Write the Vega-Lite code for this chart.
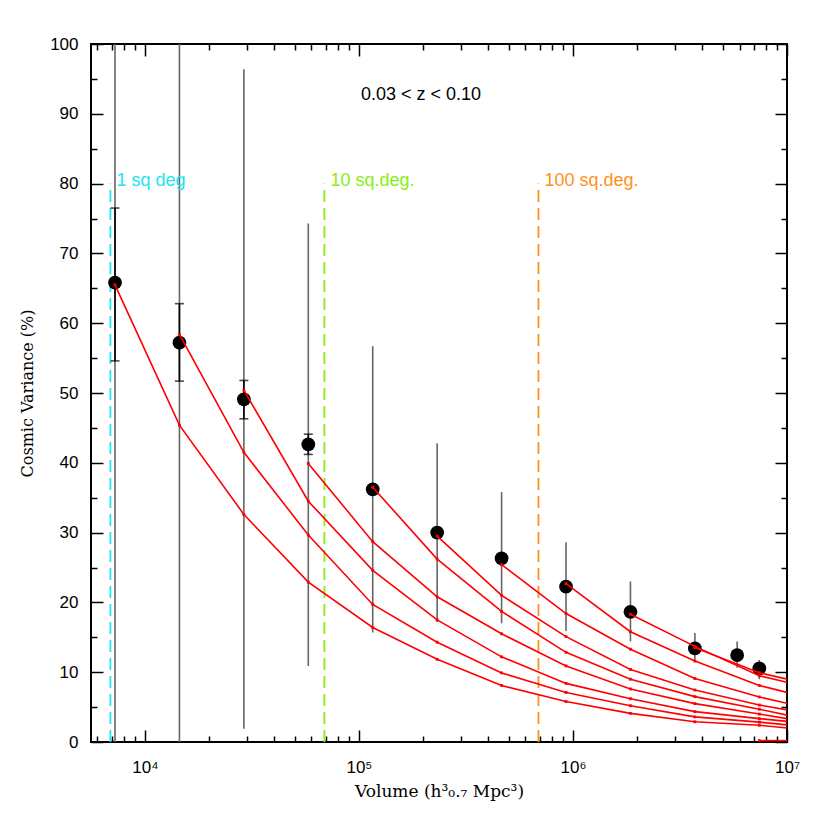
{
  "$schema": "https://vega.github.io/schema/vega-lite/v6.json",
  "width": 696,
  "height": 698,
  "autosize": {"type": "none"},
  "padding": {"left": 91, "top": 44, "right": 43, "bottom": 88},
  "background": "white",
  "config": {
    "view": {"stroke": "black", "strokeWidth": 2},
    "axis": {
      "grid": false,
      "domain": false,
      "tickColor": "black",
      "tickWidth": 1.5,
      "labelFont": "Liberation Sans",
      "labelFontSize": 17,
      "labelColor": "black",
      "titleFont": "DejaVu Serif",
      "titleFontSize": 16,
      "titleFontWeight": "normal",
      "titleColor": "black"
    }
  },
  "datasets": {
    "areas": [
      {"label": "1 sq deg", "V": 6900, "lo": 0, "top": 80},
      {"label": "10 sq.deg.", "V": 69000, "lo": 0, "top": 80},
      {"label": "100 sq.deg.", "V": 690000, "lo": 0, "top": 80}
    ],
    "obs": [
      {"V": 7250, "cv": 65.8, "lo": 0, "hi": 100, "elo": 54.6, "ehi": 76.5},
      {"V": 14500, "cv": 57.2, "lo": 0, "hi": 100, "elo": 51.7, "ehi": 62.8},
      {"V": 29000, "cv": 49.1, "lo": 1.9, "hi": 96.4, "elo": 46.3, "ehi": 51.8},
      {"V": 58000, "cv": 42.65, "lo": 10.9, "hi": 74.3, "elo": 41.2, "ehi": 44.1},
      {"V": 116000, "cv": 36.2, "lo": 15.7, "hi": 56.7},
      {"V": 232000, "cv": 30.0, "lo": 17.2, "hi": 42.8},
      {"V": 464000, "cv": 26.3, "lo": 17.0, "hi": 35.8},
      {"V": 928000, "cv": 22.25, "lo": 15.9, "hi": 28.6},
      {"V": 1856000, "cv": 18.65, "lo": 14.4, "hi": 23.0},
      {"V": 3712000, "cv": 13.4, "lo": 11.5, "hi": 15.6},
      {"V": 5850000, "cv": 12.46, "lo": 10.65, "hi": 14.4},
      {"V": 7424000, "cv": 10.55, "lo": 9.0, "hi": 11.75}
    ],
    "model": [
      {"s": "s1", "V": 7250, "cv": 65.5},
      {"s": "s1", "V": 14500, "cv": 45.4},
      {"s": "s1", "V": 29000, "cv": 32.6},
      {"s": "s1", "V": 58000, "cv": 22.9},
      {"s": "s1", "V": 116000, "cv": 16.4},
      {"s": "s1", "V": 232000, "cv": 11.85},
      {"s": "s1", "V": 464000, "cv": 8.1},
      {"s": "s1", "V": 928000, "cv": 5.8},
      {"s": "s1", "V": 1856000, "cv": 4.1},
      {"s": "s1", "V": 3712000, "cv": 2.9},
      {"s": "s1", "V": 7424000, "cv": 2.4},
      {"s": "s1", "V": 10000000, "cv": 2.0},
      {"s": "s2", "V": 14500, "cv": 58.4},
      {"s": "s2", "V": 29000, "cv": 41.5},
      {"s": "s2", "V": 58000, "cv": 29.65},
      {"s": "s2", "V": 116000, "cv": 19.7},
      {"s": "s2", "V": 232000, "cv": 14.3},
      {"s": "s2", "V": 464000, "cv": 9.9},
      {"s": "s2", "V": 928000, "cv": 7.1},
      {"s": "s2", "V": 1856000, "cv": 5.2},
      {"s": "s2", "V": 3712000, "cv": 3.6},
      {"s": "s2", "V": 7424000, "cv": 2.85},
      {"s": "s2", "V": 10000000, "cv": 2.45},
      {"s": "s3", "V": 29000, "cv": 50.4},
      {"s": "s3", "V": 58000, "cv": 34.5},
      {"s": "s3", "V": 116000, "cv": 24.6},
      {"s": "s3", "V": 232000, "cv": 17.5},
      {"s": "s3", "V": 464000, "cv": 12.2},
      {"s": "s3", "V": 928000, "cv": 8.4},
      {"s": "s3", "V": 1856000, "cv": 6.2},
      {"s": "s3", "V": 3712000, "cv": 4.35},
      {"s": "s3", "V": 7424000, "cv": 3.35},
      {"s": "s3", "V": 10000000, "cv": 2.95},
      {"s": "s4", "V": 58000, "cv": 39.9},
      {"s": "s4", "V": 116000, "cv": 28.7},
      {"s": "s4", "V": 232000, "cv": 20.8},
      {"s": "s4", "V": 464000, "cv": 15.5},
      {"s": "s4", "V": 928000, "cv": 10.9},
      {"s": "s4", "V": 1856000, "cv": 7.6},
      {"s": "s4", "V": 3712000, "cv": 5.5},
      {"s": "s4", "V": 7424000, "cv": 4.0},
      {"s": "s4", "V": 10000000, "cv": 3.35},
      {"s": "s5", "V": 116000, "cv": 36.5},
      {"s": "s5", "V": 232000, "cv": 26.2},
      {"s": "s5", "V": 464000, "cv": 18.7},
      {"s": "s5", "V": 928000, "cv": 12.85},
      {"s": "s5", "V": 1856000, "cv": 9.0},
      {"s": "s5", "V": 3712000, "cv": 6.5},
      {"s": "s5", "V": 7424000, "cv": 4.7},
      {"s": "s5", "V": 10000000, "cv": 3.85},
      {"s": "s6", "V": 232000, "cv": 29.5},
      {"s": "s6", "V": 464000, "cv": 21.0},
      {"s": "s6", "V": 928000, "cv": 15.1},
      {"s": "s6", "V": 1856000, "cv": 10.4},
      {"s": "s6", "V": 3712000, "cv": 7.45},
      {"s": "s6", "V": 7424000, "cv": 5.3},
      {"s": "s6", "V": 10000000, "cv": 4.6},
      {"s": "s7", "V": 464000, "cv": 25.4},
      {"s": "s7", "V": 928000, "cv": 18.4},
      {"s": "s7", "V": 1856000, "cv": 13.3},
      {"s": "s7", "V": 3712000, "cv": 9.1},
      {"s": "s7", "V": 7424000, "cv": 6.45},
      {"s": "s7", "V": 10000000, "cv": 5.55},
      {"s": "s8", "V": 928000, "cv": 22.7},
      {"s": "s8", "V": 1856000, "cv": 15.8},
      {"s": "s8", "V": 3712000, "cv": 11.6},
      {"s": "s8", "V": 7424000, "cv": 8.1},
      {"s": "s8", "V": 10000000, "cv": 7.1},
      {"s": "s9", "V": 1856000, "cv": 18.3},
      {"s": "s9", "V": 3712000, "cv": 13.7},
      {"s": "s9", "V": 7424000, "cv": 9.5},
      {"s": "s9", "V": 10000000, "cv": 8.55},
      {"s": "s10", "V": 3712000, "cv": 13.5},
      {"s": "s10", "V": 7424000, "cv": 9.93},
      {"s": "s10", "V": 10000000, "cv": 9.0},
      {"s": "s11", "V": 7424000, "cv": 0.2},
      {"s": "s11", "V": 10000000, "cv": 0.2}
    ],
    "note": [{"V": 195000, "cv": 92.7, "text": "0.03 < z < 0.10"}]
  },
  "layer": [
    {
      "data": {"name": "areas"},
      "mark": {"type": "rule", "strokeDash": [12, 6], "strokeWidth": 1.8},
      "encoding": {
        "x": {
          "field": "V", "type": "quantitative",
          "scale": {"type": "log", "domain": [5600, 10000000], "nice": false},
          "axis": {
            "orient": "bottom",
            "values": [10000, 100000, 1000000, 10000000],
            "labelExpr": "datum.value == 10000 ? '10⁴' : datum.value == 100000 ? '10⁵' : datum.value == 1000000 ? '10⁶' : '10⁷'",
            "offset": -12,
            "tickSize": 12,
            "labelPadding": 17,
            "labelFlush": false,
            "title": "Volume (h³₀.₇ Mpc³)",
            "titleFontSize": 17,
            "titlePadding": 8
          }
        },
        "y": {
          "field": "lo", "type": "quantitative",
          "scale": {"domain": [0, 100], "nice": false},
          "axis": {
            "orient": "left",
            "values": [0, 10, 20, 30, 40, 50, 60, 70, 80, 90, 100],
            "offset": -12,
            "tickSize": 12,
            "labelPadding": 13,
            "title": "Cosmic Variance (%)",
            "titlePadding": 14
          }
        },
        "y2": {"field": "top"},
        "color": {
          "field": "label", "type": "nominal",
          "scale": {"domain": ["1 sq deg", "10 sq.deg.", "100 sq.deg."], "range": ["#22e4f0", "#88ee11", "#ff9020"]},
          "legend": null
        }
      }
    },
    {
      "data": {"name": "obs"},
      "mark": {"type": "rule", "color": "#666666", "strokeWidth": 1.6, "clip": true},
      "encoding": {
        "x": {
          "field": "V", "type": "quantitative",
          "axis": {
            "orient": "bottom",
            "values": [6000, 7000, 8000, 9000, 20000, 30000, 40000, 50000, 60000, 70000, 80000, 90000, 200000, 300000, 400000, 500000, 600000, 700000, 800000, 900000, 2000000, 3000000, 4000000, 5000000, 6000000, 7000000, 8000000, 9000000],
            "offset": -6, "tickSize": 6, "labels": false, "title": null
          }
        },
        "y": {
          "field": "lo", "type": "quantitative",
          "axis": {
            "orient": "left",
            "values": [5, 15, 25, 35, 45, 55, 65, 75, 85, 95],
            "offset": -6, "tickSize": 6, "labels": false, "title": null
          }
        },
        "y2": {"field": "hi"}
      }
    },
    {
      "data": {"name": "obs"},
      "transform": [{"filter": "isValid(datum.ehi)"}],
      "mark": {"type": "errorbar", "color": "black", "thickness": 1.6, "size": 9, "ticks": true},
      "encoding": {
        "x": {
          "field": "V", "type": "quantitative",
          "axis": {
            "orient": "top",
            "values": [10000, 100000, 1000000, 10000000],
            "offset": -12, "tickSize": 12, "labels": false, "title": null
          }
        },
        "y": {
          "field": "elo", "type": "quantitative",
          "axis": {
            "orient": "right",
            "values": [0, 10, 20, 30, 40, 50, 60, 70, 80, 90, 100],
            "offset": -12, "tickSize": 12, "labels": false, "title": null
          }
        },
        "y2": {"field": "ehi"}
      }
    },
    {
      "data": {"name": "obs"},
      "mark": {"type": "point", "filled": true, "color": "black", "opacity": 1, "size": 190},
      "encoding": {
        "x": {
          "field": "V", "type": "quantitative",
          "axis": {
            "orient": "top",
            "values": [6000, 7000, 8000, 9000, 20000, 30000, 40000, 50000, 60000, 70000, 80000, 90000, 200000, 300000, 400000, 500000, 600000, 700000, 800000, 900000, 2000000, 3000000, 4000000, 5000000, 6000000, 7000000, 8000000, 9000000],
            "offset": -6, "tickSize": 6, "labels": false, "title": null
          }
        },
        "y": {
          "field": "cv", "type": "quantitative",
          "axis": {
            "orient": "right",
            "values": [5, 15, 25, 35, 45, 55, 65, 75, 85, 95],
            "offset": -6, "tickSize": 6, "labels": false, "title": null
          }
        }
      }
    },
    {
      "data": {"name": "model"},
      "mark": {"type": "line", "color": "#ff0000", "strokeWidth": 1.6, "clip": true},
      "encoding": {
        "x": {"field": "V", "type": "quantitative", "axis": null},
        "y": {"field": "cv", "type": "quantitative", "axis": null},
        "detail": {"field": "s", "type": "nominal"},
        "order": {"field": "V", "type": "quantitative"}
      }
    },
    {
      "data": {"name": "model"},
      "transform": [{"filter": "datum.V < 9000000"}],
      "mark": {"type": "square", "color": "#ff0000", "filled": true, "opacity": 1, "size": 8},
      "encoding": {
        "x": {"field": "V", "type": "quantitative", "axis": null},
        "y": {"field": "cv", "type": "quantitative", "axis": null}
      }
    },
    {
      "data": {"name": "areas"},
      "mark": {"type": "text", "align": "left", "baseline": "alphabetic", "dx": 6, "dy": 2, "font": "Liberation Sans", "fontSize": 18},
      "encoding": {
        "x": {"field": "V", "type": "quantitative", "axis": null},
        "y": {"field": "top", "type": "quantitative", "axis": null},
        "text": {"field": "label"},
        "color": {"field": "label", "type": "nominal", "legend": null}
      }
    },
    {
      "data": {"name": "note"},
      "mark": {"type": "text", "align": "center", "baseline": "middle", "font": "Liberation Sans", "fontSize": 18, "color": "black"},
      "encoding": {
        "x": {"field": "V", "type": "quantitative", "axis": null},
        "y": {"field": "cv", "type": "quantitative", "axis": null},
        "text": {"field": "text"}
      }
    }
  ],
  "resolve": {"axis": {"x": "independent", "y": "independent"}}
}
